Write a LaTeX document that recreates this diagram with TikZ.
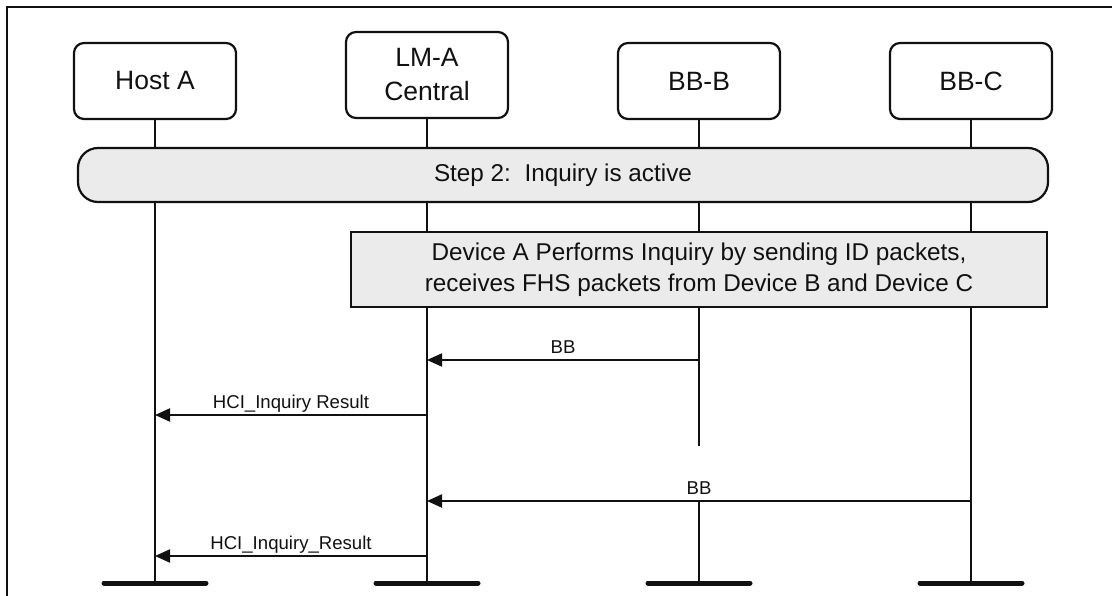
\documentclass[tikz,border=0pt]{standalone}
\usepackage{fontspec}
\setmainfont{Liberation Sans}
\usetikzlibrary{arrows.meta,calc}
\definecolor{boxgray}{HTML}{EBEBEB}
\definecolor{ink}{HTML}{111111}
\begin{document}
\begin{tikzpicture}[x=1pt,y=-1pt,
  actor/.style={draw=ink,line width=2.2pt,rounded corners=10pt,fill=white,inner sep=0pt,
    minimum width=162pt,align=center,text=ink,font=\fontsize{26.5}{34}\selectfont},
  stepbar/.style={draw=ink,line width=2.2pt,rounded corners=20pt,fill=boxgray,inner sep=0pt,
    minimum width=970pt,minimum height=54pt,text=ink,font=\fontsize{24.3}{30}\selectfont},
  actionbox/.style={draw=ink,line width=2.5pt,fill=boxgray,inner sep=0pt,
    minimum width=696pt,minimum height=75pt,align=center,text=ink,font=\fontsize{24.3}{31}\selectfont},
  life/.style={draw=ink,line width=2pt},
  msg/.style={draw=ink,line width=2pt,-{Triangle[length=15pt,width=13pt]}},
  msglabel/.style={text=ink,font=\fontsize{18.6}{22}\selectfont,inner sep=0pt,anchor=base},
  endbar/.style={draw=ink,line width=5pt,line cap=round},
  frame/.style={draw=ink,line width=2pt}]
\useasboundingbox (0,0) rectangle (1112,596);
% frame
\draw[frame] (7,610) -- (7,7) -- (1120,7);
% actors
\node[actor,minimum height=76pt] (hostA) at (155,81) {Host A};
\node[actor,minimum height=86pt] (lmA) at (427,75) {LM-A\\Central};
\node[actor,minimum height=76pt] (bbB) at (699,81) {BB-B};
\node[actor,minimum height=76pt] (bbC) at (971,81) {BB-C};
% lifeline ends
\coordinate (endA) at (155,583);
\coordinate (endLM) at (427,583);
\coordinate (endB) at (699,583);
\coordinate (endC) at (971,583);
\coordinate (breakB) at (699,446);
\coordinate (resumeB) at (699,501);
% lifelines
\draw[life] (hostA.south) -- (endA);
\draw[life] (lmA.south) -- (endLM);
\draw[life] (bbB.south) -- (breakB);
\draw[life] (resumeB) -- (endB);
\draw[life] (bbC.south) -- (endC);
% step bar and action box
\node[stepbar] (step) at (563,175) {Step 2:\ \ Inquiry is active};
\node[actionbox] (action) at (699,269.5) {Device A Performs Inquiry by sending ID packets,\\receives FHS packets from Device B and Device C};
% message coordinates
\coordinate (m1s) at (699,360);
\coordinate (m1e) at (427,360);
\coordinate (m2s) at (427,415);
\coordinate (m2e) at (155,415);
\coordinate (m3s) at (971,501);
\coordinate (m3e) at (427,501);
\coordinate (m4s) at (427,556);
\coordinate (m4e) at (155,556);
% messages
\draw[msg] (m1s) -- (m1e);
\node[msglabel] (l1) at ($(m1s)!0.5!(m1e)+(0,-7)$) {BB};
\draw[msg] (m2s) -- (m2e);
\node[msglabel] (l2) at ($(m2s)!0.5!(m2e)+(0,-7)$) {HCI\_Inquiry Result};
\draw[msg] (m3s) -- (m3e);
\node[msglabel] (l3) at ($(m3s)!0.5!(m3e)+(0,-7)$) {BB};
\draw[msg] (m4s) -- (m4e);
\node[msglabel] (l4) at ($(m4s)!0.5!(m4e)+(0,-7)$) {HCI\_Inquiry\_Result};
% end bars
\draw[endbar] ($(endA)+(-51,0)$) -- ($(endA)+(51,0)$);
\draw[endbar] ($(endLM)+(-51,0)$) -- ($(endLM)+(51,0)$);
\draw[endbar] ($(endB)+(-51,0)$) -- ($(endB)+(51,0)$);
\draw[endbar] ($(endC)+(-51,0)$) -- ($(endC)+(51,0)$);
\end{tikzpicture}
\end{document}
